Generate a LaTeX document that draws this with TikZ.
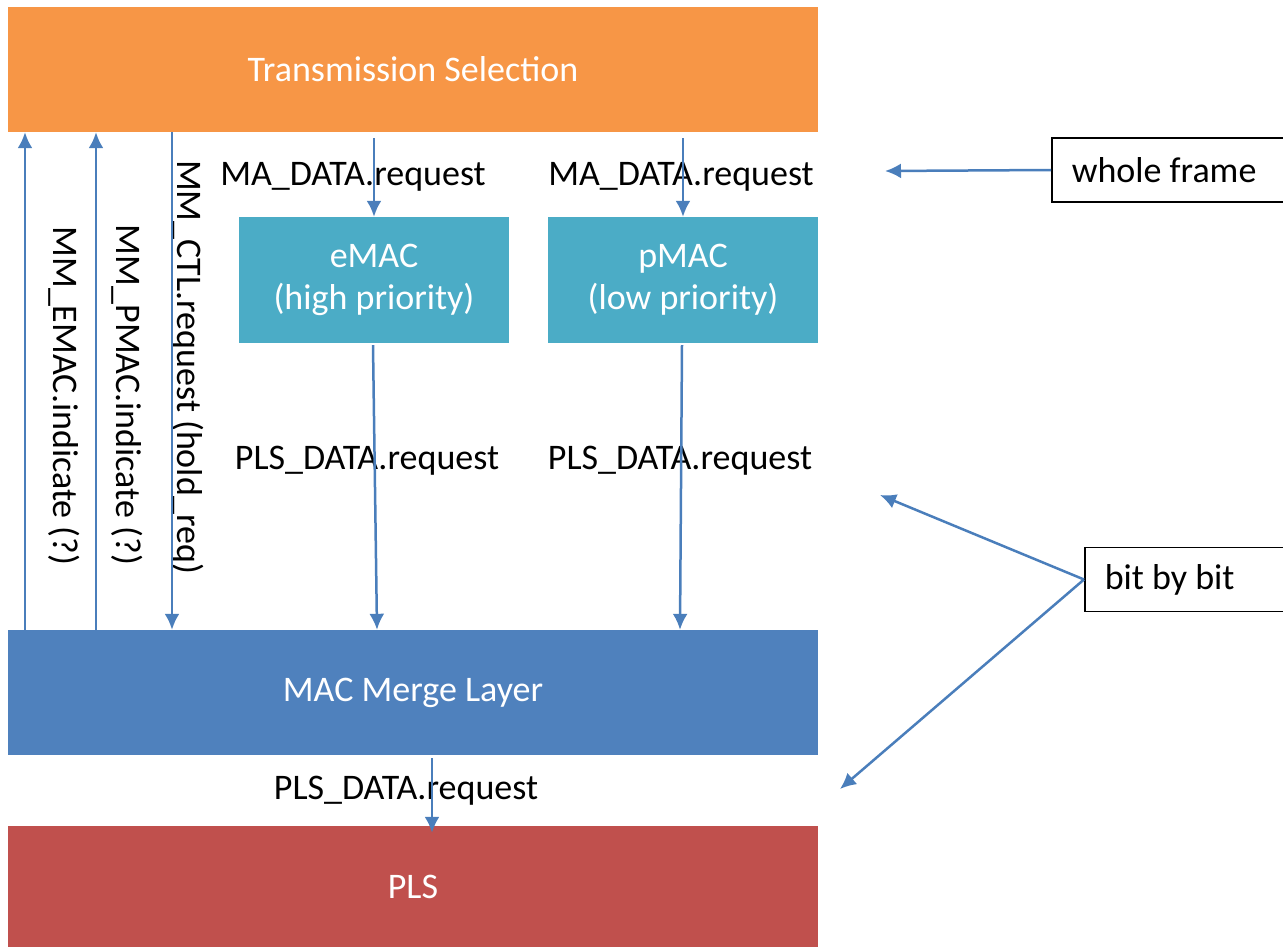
\documentclass[tikz,border=0pt]{standalone}
\usepackage{fontspec}
\setmainfont{Carlito}
\usepackage{xcolor}
\usetikzlibrary{arrows.meta,positioning}
\definecolor{tsorange}{HTML}{F79646}
\definecolor{macteal}{HTML}{4BACC6}
\definecolor{mmlblue}{HTML}{4F81BD}
\definecolor{plsred}{HTML}{C0504D}
\definecolor{sigblue}{HTML}{4A7EBB}

\begin{document}
\begin{tikzpicture}[x=1pt, y=-1pt, every node/.style={font=\fontsize{36}{42}\selectfont},
 layer/.style={minimum width=810pt, minimum height=125pt, text=white, inner sep=0pt},
 mac/.style={minimum width=270pt, minimum height=126pt, fill=macteal, text=white, align=center, inner sep=0pt},
 note/.style={draw, line width=1.5pt, anchor=west, inner xsep=20pt, minimum height=64pt},
 sig/.style={line width=2.5pt, draw=sigblue, -{Latex[length=16pt,width=15pt]}},
 sigtext/.style={inner sep=0pt}]
\useasboundingbox (0,0) rectangle (1283,947);
% layers
\node[layer, fill=tsorange] (ts) at (413,69.5) {Transmission Selection};
\node[mac] (emac) at (374,280) {eMAC\\(high priority)};
\node[mac] (pmac) at (683,280) {pMAC\\(low priority)};
\node[layer, fill=mmlblue] (mml) at (413,692.5) {MAC Merge Layer};
\node[layer, fill=plsred, minimum height=121pt] (pls) at (413,886.5) {PLS};
% notes
\node[note] (wf) at (1051,170) {\makebox[200pt][l]{whole frame}};
\node[note] (bbb) at (1084,579.5) {\makebox[166pt][l]{bit by bit}};
% signal texts
\node[sigtext] (ma1) at (353,177) {MA\_DATA.request};
\node[sigtext] (ma2) at (681,177) {MA\_DATA.request};
\node[sigtext] (pd1) at (367,461) {PLS\_DATA.request};
\node[sigtext] (pd2) at (680,461) {PLS\_DATA.request};
\node[sigtext] (pd3) at (406,791) {PLS\_DATA.request};
\node[sigtext, rotate=-90] (ctl) at (188,367) {MM\_CTL.request (hold\_req)};
\node[sigtext, rotate=-90] (pind) at (127,395) {MM\_PMAC.indicate (?)};
\node[sigtext, rotate=-90] (eind) at (64,396) {MM\_EMAC.indicate (?)};
% free ends
\coordinate (up1) at (25,0);
\coordinate (up2) at (96,0);
\coordinate (dn1) at (172,0);
\coordinate (pl) at (432,0);
\coordinate (wf end) at (885,171);
\coordinate (bbb up) at (880,495);
\coordinate (bbb down) at (840,789);
% signals
\draw[sig] (mml.north -| up1) -- (ts.south -| up1);
\draw[sig] (mml.north -| up2) -- (ts.south -| up2);
\draw[sig] (ts.south -| dn1) -- (mml.north -| dn1);
\draw[sig] ([yshift=-6pt]ts.south -| emac.north) -- (emac.north);
\draw[sig] ([yshift=-6pt]ts.south -| pmac.north) -- (pmac.north);
\draw[sig] ([xshift=-1pt,yshift=-2pt]emac.south) -- ([xshift=3pt]mml.north -| emac.south);
\draw[sig] ([xshift=-1pt,yshift=-2pt]pmac.south) -- ([xshift=-3pt]mml.north -| pmac.south);
\draw[sig] ([yshift=-3pt]mml.south -| pl) -- ([yshift=-7pt]pls.north -| pl);
\draw[sig] (wf.west) -- (wf end);
\draw[sig] (bbb.west) -- (bbb up);
\draw[sig] (bbb.west) -- (bbb down);
\end{tikzpicture}
\end{document}
